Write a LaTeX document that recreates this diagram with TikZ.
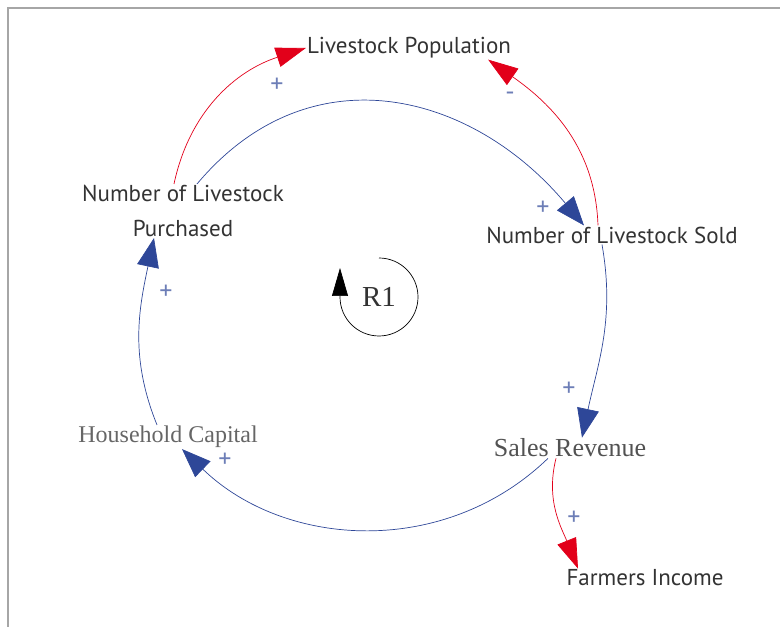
\documentclass[tikz,border=0pt]{standalone}
\usepackage{fontspec}
\newfontfamily\gillfont{PT Sans}
\newfontfamily\timesfont{Liberation Serif}
\usepackage{xcolor}
\usetikzlibrary{arrows.meta}
\definecolor{loopred}{HTML}{E2001A}
\definecolor{loopblue}{HTML}{2E4798}
\definecolor{labelgray}{HTML}{333333}

\begin{document}
\begin{tikzpicture}[
		x=1pt, y=1pt,
		var/.style={                 % sans label
			font=\gillfont\fontsize{23}{35}\selectfont,
			text=labelgray, inner sep=1pt, align=center
		},
		var_serif/.style={           % serif label
			font=\timesfont\fontsize{26}{28}\selectfont,
			text=labelgray!85, inner sep=1pt
		},
		link_red/.style={
			-{Triangle[length=30pt,width=20pt]},
			draw=loopred, line width=0.7pt
		},
		link_blue/.style={
			-{Triangle[length=29pt,width=22pt]},
			draw=loopblue, line width=0.7pt
		},
		sign/.style={
			font=\gillfont\fontsize{26}{26}\selectfont,
			text=loopblue!70, inner sep=0pt
		}
	]
	\useasboundingbox (0,0) rectangle (780,627);
	% --- frame ---
	\draw[gray!70, line width=2pt] (8,0) -- (8,619) -- (780,619);
	
	% --- variables ---
	\node[var] (pop) at (409,579) {Livestock Population};
	\node[var] (purch) at (183,416) {Number of Livestock\\Purchased};
	\node[var] (sold) at (612,392) {Number of Livestock Sold};
	\node[var_serif] (rev) at (570,179) {Sales Revenue};
	\node[var_serif, font=\timesfont\fontsize{24}{26}\selectfont, text=labelgray!75] (cap) at (168,190) {Household Capital};
	\node[var] (inc) at (645,49) {Farmers Income};
	
	% --- links ---
	\draw[link_red] ([xshift=-9pt]purch.north) to[out=78, in=198] (pop.west);
	\draw[link_red] ([xshift=-14pt]sold.north) to[out=92, in=-35] ([xshift=-24pt]pop.south east);
	\draw[link_blue] ([xshift=14pt]purch.north) to[out=50, in=130, looseness=1.15] ([xshift=-28pt]sold.north);
	\draw[link_blue] ([xshift=-10pt]sold.south) to[out=-80, in=78] ([xshift=12pt]rev.north);
	\draw[link_blue] ([xshift=-22pt]rev.south) to[out=-136, in=-44] ([xshift=14pt]cap.south);
	\draw[link_blue] ([xshift=-11pt]cap.north) to[out=112, in=-102] ([xshift=-29pt]purch.south);
	\draw[link_red] ([xshift=-14pt]rev.south) to[out=-104, in=112] ([xshift=-67pt]inc.north);
	
	% --- polarities ---
	\foreach \pos [count=\i] in {(277,542), (543,419), (569,238), (225,167), (166,335), (574,109)} {
		\node[sign] (s-\i) at \pos {+};
	}
	\node[sign] (s-neg) at (510,531) {-};
	
	% --- loop marker ---
	\node[font=\timesfont\fontsize{29}{29}\selectfont, text=labelgray] (rone) at (379,330) {R1};
	\draw[-{Triangle[length=28pt,width=16pt]}, line width=0.7pt]
		([yshift=39pt]rone.center) arc[start angle=90, end angle=-180, radius=39pt] -- ++(0,29);
\end{tikzpicture}
\end{document}
